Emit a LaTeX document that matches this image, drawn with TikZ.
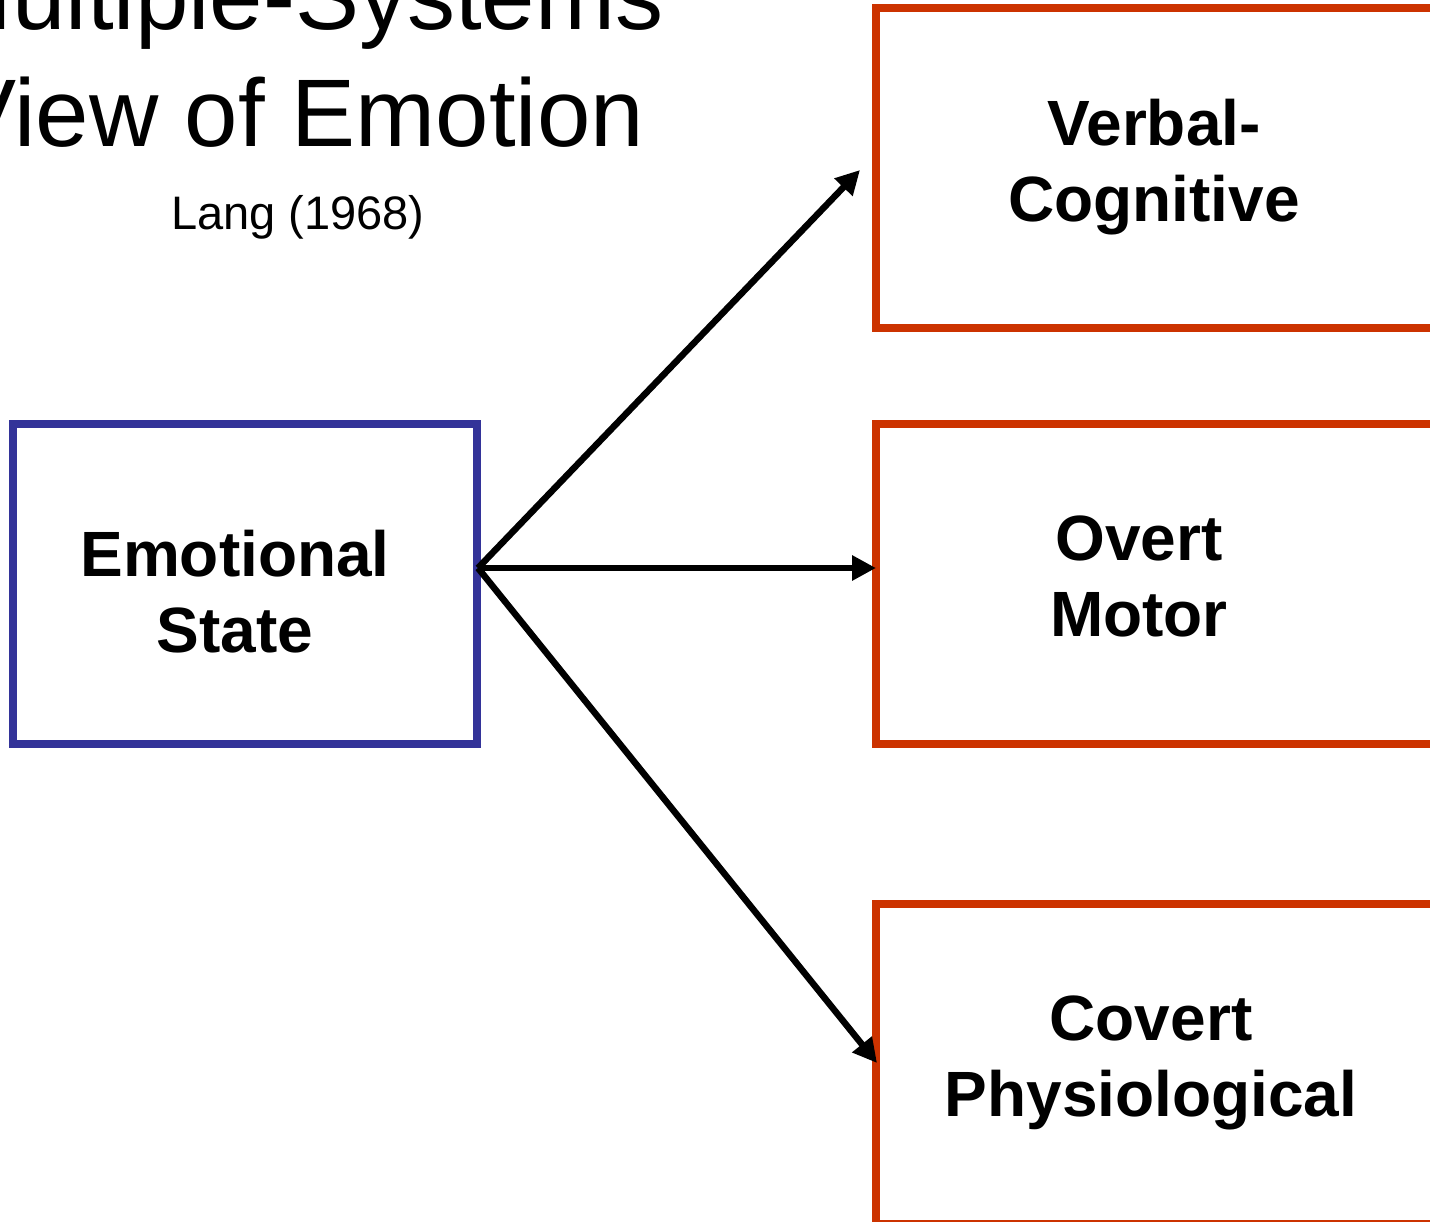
\documentclass[tikz,border=0pt]{standalone}
\usepackage{fontspec}
\setmainfont{Liberation Sans}
\usetikzlibrary{arrows.meta}
\definecolor{boxblue}{HTML}{333399}
\definecolor{boxred}{HTML}{CC3300}
\begin{document}
\begin{tikzpicture}[x=1pt,y=-1pt,
  bluebox/.style={draw=boxblue,line width=8pt,minimum width=464pt,minimum height=320pt,inner sep=0pt},
  redbox/.style={draw=boxred,line width=8pt,minimum width=584pt,minimum height=320pt,inner sep=0pt},
  boxtext/.style={align=center,inner sep=0pt,font=\bfseries\fontsize{64}{76}\selectfont},
  titletext/.style={anchor=base,inner sep=0pt,font=\fontsize{96}{117}\selectfont},
  subtext/.style={anchor=base,inner sep=0pt,font=\fontsize{47}{56}\selectfont},
  arrowline/.style={line width=6.5pt,-{Triangle[length=24pt,width=24pt]}}]
\useasboundingbox (0,0) rectangle (1430,1222);
\clip (0,0) rectangle (1430,1222);
\fill[white] (0,0) rectangle (1430,1222);
% title
\node[titletext] (t1) at (298,30) {Multiple-Systems};
\node[titletext] (t2) at (298,147) {View of Emotion};
\node[subtext] (lang) at (298,230) {Lang (1968)};
% boxes
\node[bluebox] (es) at (245,584) {};
\node[redbox] (vc) at (1168,168) {};
\node[redbox] (om) at (1168,584) {};
\node[redbox] (cp) at (1168,1064) {};
% texts
\node[boxtext] (est) at (235,592) {Emotional\\State};
\node[boxtext] (vct) at (1154,167) {Verbal-\\Cognitive};
\node[boxtext] (omt) at (1139,576) {Overt\\Motor};
\node[boxtext] (cpt) at (1151,1063) {Covert\\Physiological};
% connectors
\coordinate (src) at (478,568);
\coordinate (tip1) at (860,170);
\coordinate (tip2) at (876,568);
\coordinate (tip3) at (877,1063);
\draw[arrowline] (src) -- (tip1);
\draw[arrowline] (src) -- (tip2);
\draw[arrowline] (src) -- (tip3);
\end{tikzpicture}
\end{document}
